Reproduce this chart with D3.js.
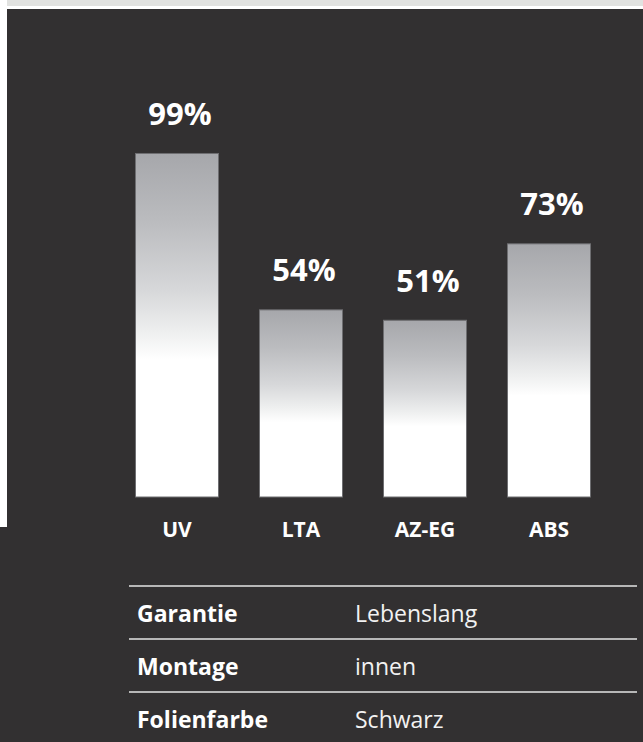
<!DOCTYPE html>
<html>
<head>
<meta charset="utf-8">
<script src="https://cdn.jsdelivr.net/npm/d3@7"></script>
<style>
  html, body { margin: 0; padding: 0; background: #ffffff; }
  svg { display: block; }
</style>
</head>
<body>
<svg id="chart" width="643" height="742"></svg>
<script>
// ---- data ----
const categories = ["UV", "LTA", "AZ-EG", "ABS"];
const values = [99, 54, 51, 73];
const valueLabels = ["99%", "54%", "51%", "73%"];
const tableKeys = ["Garantie", "Montage", "Folienfarbe"];
const tableValues = ["Lebenslang", "innen", "Schwarz"];

const svg = d3.select("#chart");
const W = 643, H = 742;
const dark = "#323031";

// backgrounds
svg.append("rect").attr("x", 7).attr("y", 0).attr("width", W - 7).attr("height", 6).attr("fill", "#e1e2e0");
svg.append("rect").attr("x", 7).attr("y", 9).attr("width", W - 7).attr("height", 518).attr("fill", dark);
svg.append("rect").attr("x", 0).attr("y", 527).attr("width", W).attr("height", H - 527).attr("fill", dark);

// gradient
const defs = svg.append("defs");
const grad = defs.append("linearGradient").attr("id", "barGrad")
  .attr("x1", 0).attr("y1", 0).attr("x2", 0).attr("y2", 1);
[[0, "#a6a7ab"], [0.2, "#bbbcbf"], [0.4, "#d7d8da"], [0.52, "#eeefef"], [0.6, "#ffffff"], [1, "#ffffff"]]
  .forEach(([o, c]) => grad.append("stop").attr("offset", o).attr("stop-color", c));

// scales
const x = d3.scaleBand().domain(categories).range([95, 631])
  .paddingInner(40 / 124).paddingOuter(40 / 124);
const y = d3.scaleLinear().domain([0, 100]).range([497, 149.5]);

const data = categories.map((c, i) => ({ c, v: values[i], label: valueLabels[i] }));

// bars
svg.append("g").selectAll("rect").data(data).join("rect")
  .attr("x", d => x(d.c) + 0.5)
  .attr("y", d => y(d.v) + 0.5)
  .attr("width", x.bandwidth() - 1)
  .attr("height", d => y(0) - y(d.v) - 0.5)
  .attr("fill", "url(#barGrad)")
  .attr("stroke", "#6e6e71")
  .attr("stroke-width", 1);

// value labels
svg.append("g").selectAll("text").data(data).join("text")
  .attr("x", d => x(d.c) + x.bandwidth() / 2 + 3)
  .attr("y", d => y(d.v) - 28)
  .attr("text-anchor", "middle")
  .attr("font-family", "'Open Sans', sans-serif")
  .attr("font-weight", 700)
  .attr("font-size", 31)
  .attr("fill", "#ffffff")
  .text(d => d.label);

// category axis labels
const xAxis = d3.axisBottom(x).tickSize(0).tickPadding(0);
const gx = svg.append("g").attr("transform", "translate(0,516)").call(xAxis);
gx.select(".domain").remove();
gx.selectAll("text")
  .attr("dy", 0)
  .attr("y", 21)
  .attr("font-family", "'Open Sans', sans-serif")
  .attr("font-weight", 700)
  .attr("font-size", 21)
  .attr("fill", "#ffffff");

// table
const rowTop = 586, rowH = 53;
const tbl = svg.append("g");
tableKeys.forEach((k, i) => {
  const ly = rowTop + i * rowH;
  tbl.append("line").attr("x1", 129).attr("x2", 637).attr("y1", ly).attr("y2", ly)
    .attr("stroke", "#e4e4e4").attr("stroke-width", 1.5);
  tbl.append("text").attr("x", 137).attr("y", ly + 36)
    .attr("font-family", "'Open Sans', sans-serif").attr("font-weight", 700)
    .attr("font-size", 23).attr("fill", "#ffffff").text(k);
  tbl.append("text").attr("x", 355).attr("y", ly + 36)
    .attr("font-family", "'Open Sans', sans-serif").attr("font-weight", 400)
    .attr("font-size", 23).attr("fill", "#f2f2f2").text(tableValues[i]);
});
</script>
</body>
</html>
